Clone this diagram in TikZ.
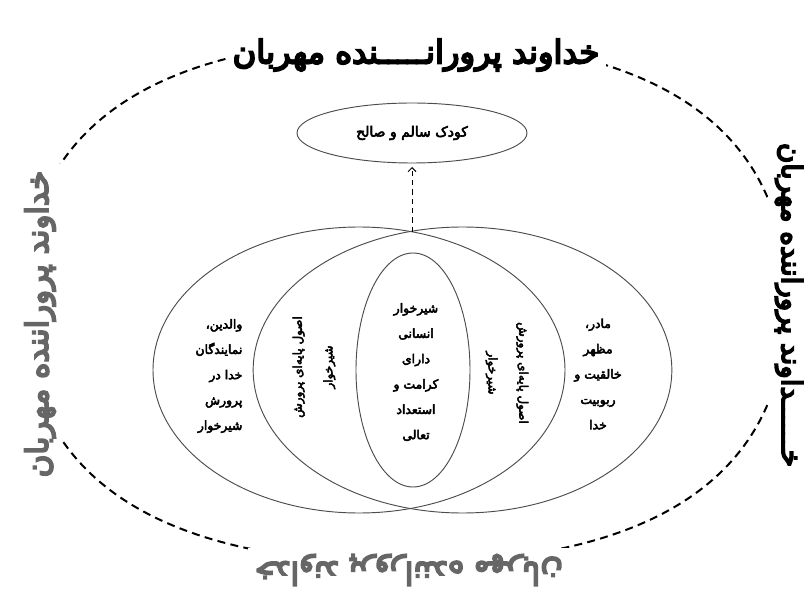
\documentclass[tikz,border=0pt]{standalone}
\usepackage{fontspec}
\usetikzlibrary{shapes.geometric,arrows.meta}
\newfontfamily\fa[Script=Arabic,FakeBold=4]{DejaVu Sans}
\newfontfamily\fah[Script=Arabic,FakeBold=6]{DejaVu Sans}
\TeXXeTstate=1
\newcommand\rl[1]{\beginR#1\endR}
\newcommand\bigfa{\fah\fontsize{20}{24}\selectfont}
\tikzset{
  ring/.style={draw=black!70, line width=0.7pt, ellipse, inner sep=0pt, outer sep=0pt},
  body/.style={font=\fa\fontsize{9.3}{19}\selectfont, align=center, inner sep=1pt},
  lens/.style={font=\fa\fontsize{9}{23}\selectfont, align=center, inner sep=1pt},
  rim/.style={fill=white, inner sep=5pt},
  outline/.style={line width=1.5pt, dash pattern=on 6pt off 4pt},
}
\begin{document}
\begin{tikzpicture}[x=0.75pt,y=-0.75pt]
\useasboundingbox[fill=white] (0,0) rectangle (807,602);
% outer dashed frame
\def\cx{405}\def\cy{301}\def\ra{382}\def\rb{262}\def\kk{0.66}
\draw[outline]
 (\cx+\ra,\cy) .. controls (\cx+\ra,\cy+\kk*\rb) and (\cx+\kk*\ra,\cy+\rb) .. (\cx,\cy+\rb)
 .. controls (\cx-\kk*\ra,\cy+\rb) and (\cx-\ra,\cy+\kk*\rb) .. (\cx-\ra,\cy)
 .. controls (\cx-\ra,\cy-\kk*\rb) and (\cx-\kk*\ra,\cy-\rb) .. (\cx,\cy-\rb)
 .. controls (\cx+\kk*\ra,\cy-\rb) and (\cx+\ra,\cy-\kk*\rb) .. cycle;
% frame texts
\node[rim] (ttop) at (416,55) {\resizebox{275pt}{!}{\bigfa\rl{خداوند پرورانـــــنده مهربان}}};
\node[rim, rotate=90, text=black!60] (tleft) at (40,324) {\resizebox{230pt}{!}{\bigfa\rl{خداوند پروراننده مهربان}}};
\node[rim, rotate=-90] (tright) at (789,305) {\resizebox{243pt}{!}{\bigfa\rl{خــــــداوند پروراننده مهربان}}};
\node[rim, rotate=180, text=black!60] (tbottom) at (409,570) {\resizebox{231pt}{!}{\bigfa\rl{خداوند پروراننده مهربان}}};
% venn
\node[ring, minimum width=309pt, minimum height=214.5pt] (lefto) at (359,370) {};
\node[ring, minimum width=314pt, minimum height=214.5pt] (righto) at (462.5,370) {};
\node[ring, minimum width=85.5pt, minimum height=175.5pt] (core) at (413,370) {};
\coordinate (meet) at (412,232);
% goal
\node[ring, minimum width=172.5pt, minimum height=45pt, body, font=\fa\fontsize{10.5}{12}\selectfont] (goal) at (412,133) {\rl{کودک سالم و صالح}};
\draw[line width=0.7pt, dash pattern=on 4pt off 3pt, -{Straight Barb[length=3pt,width=6pt]}, shorten >=3pt] (meet) -- (goal.south);
% texts
\node[body, align=right, anchor=east] (parents) at (244,376) {\rl{والدین،}\\\rl{نمایندگان}\\\rl{خدا در}\\\rl{پرورش}\\\rl{شیرخوار}};
\node[body] (mother) at (598,374) {\rl{مادر،}\\\rl{مظهر}\\\rl{خالقیت و}\\\rl{ربوبیت}\\\rl{خدا}};
\node[body] (infant) at (416,372) {\rl{شیرخوار}\\\rl{انسانی}\\\rl{دارای}\\\rl{کرامت و}\\\rl{استعداد}\\\rl{تعالی}};
\node[lens, rotate=90] (lensl) at (314,367) {\rl{اصول پایه‌ای پرورش}\\\rl{شیرخوار}};
\node[lens, rotate=-90] (lensr) at (507,373) {\rl{اصول پایه‌ای پرورش}\\\rl{شیرخوار}};
\end{tikzpicture}
\end{document}
